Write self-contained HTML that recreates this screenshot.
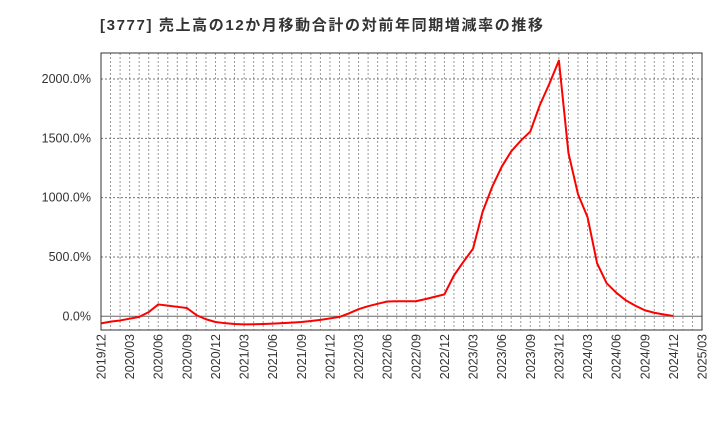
<!DOCTYPE html>
<html><head><meta charset="utf-8"><style>
body{margin:0;background:#fff;}
svg{display:block;font-family:"Liberation Sans","Noto Sans CJK JP",sans-serif;}
</style></head><body>
<svg id="chart" width="720" height="440">
<text x="100" y="30" font-size="15" font-weight="bold" fill="#333" textLength="443" lengthAdjust="spacing">[3777]  売上高の12か月移動合計の対前年同期増減率の推移</text>
<g id="grid"></g><g id="axes"></g><g id="series"></g>
</svg>
<script>
const yTicks=[0,500,1000,1500,2000];
const yTickLabels=["0.0%","500.0%","1000.0%","1500.0%","2000.0%"];
const xTickLabels=["2019/12","2020/03","2020/06","2020/09","2020/12","2021/03","2021/06","2021/09","2021/12","2022/03","2022/06","2022/09","2022/12","2023/03","2023/06","2023/09","2023/12","2024/03","2024/06","2024/09","2024/12","2025/03"];
const values=[-60,-45,-35,-20,-5,35,100,90,80,70,10,-25,-48,-58,-65,-68,-67,-65,-62,-58,-53,-48,-40,-30,-18,-5,25,60,85,105,125,127,127,127,145,165,185,345,460,570,880,1090,1260,1390,1480,1557,1780,1960,2156,1376,1030,836,448,279,200,135,90,51,30,15,3];
const NS="http://www.w3.org/2000/svg";
const L=101,R=702,T=53,B=330,nMonths=63;
const xs=i=>L+i*(R-L)/nMonths;
const ys=v=>316.3-v*(316.3-79)/2000;
const grid=document.getElementById('grid'),axes=document.getElementById('axes'),series=document.getElementById('series');
function mk(tag,attrs,parent){const e=document.createElementNS(NS,tag);for(const k in attrs)e.setAttribute(k,attrs[k]);parent.appendChild(e);return e;}
for(let m=1;m<nMonths;m++){
  const l=mk('line',{x1:xs(m),x2:xs(m),y1:T,y2:B,stroke:'#999','stroke-dasharray':'2,2','stroke-width':1},grid);
  
  
}
yTicks.forEach((v,i)=>{
  const l=mk('line',{x1:L,x2:R,y1:ys(v),y2:ys(v),stroke:v===0?'#666':'#777','stroke-dasharray':v===0?'none':'2,2','stroke-width':1},grid);
  
  
  const t=mk('text',{x:91,y:ys(v)+4,'text-anchor':'end','font-size':12.5,fill:'#333'},axes);
  t.textContent=yTickLabels[i];
  
  
});
xTickLabels.forEach((s,i)=>{
  const x=xs(i*3);
  const t=mk('text',{x:0,y:0,'text-anchor':'end','font-size':12.5,fill:'#333',transform:`translate(${x+4.5},${B+4}) rotate(-90)`},axes);
  t.textContent=s;
  
  
});
const fr=mk('rect',{x:L,y:T,width:R-L,height:B-T,fill:'none',stroke:'#333','stroke-width':1},axes);


const p=mk('polyline',{points:values.map((v,i)=>xs(i)+','+ys(v)).join(' '),fill:'none',stroke:'#f00','stroke-width':2,'stroke-linejoin':'round'},series);


</script>
</body></html>
